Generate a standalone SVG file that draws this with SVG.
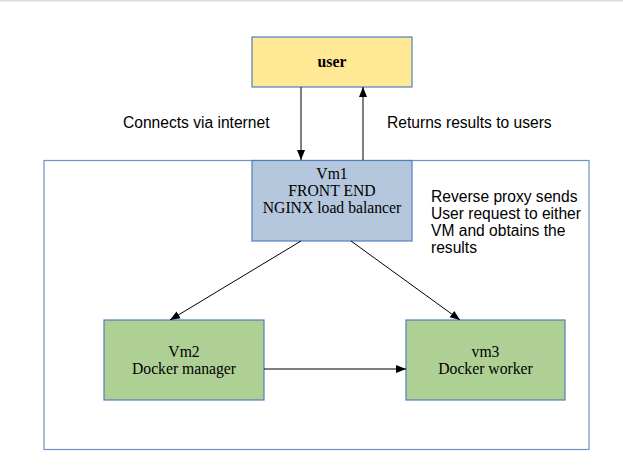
<svg xmlns="http://www.w3.org/2000/svg" width="623" height="467" viewBox="0 0 623 467">
<style>
.box{stroke:#4f7fbf;stroke-width:1.2}
.serif{font-family:"Liberation Serif","Times New Roman",serif;font-size:15.7px;fill:#000;text-anchor:middle}
.sans{font-family:"Liberation Sans",Arial,sans-serif;font-size:15.6px;fill:#000}
.conn{stroke:#000;stroke-width:1;fill:none}
</style>
<defs>
<marker id="ah" viewBox="0 0 10 10" refX="10" refY="5" markerWidth="10" markerHeight="10" markerUnits="userSpaceOnUse" orient="auto">
<path d="M0,1 L10,5 L0,9 Z" fill="#000"/>
</marker>
</defs>
<rect x="0" y="0" width="623" height="467" fill="#fff"/>
<rect x="0" y="0" width="623" height="1.5" fill="#dcdcdc"/>
<g id="container">
<rect x="44" y="160.5" width="545" height="289" fill="#fff" stroke="#6b93c9" stroke-width="1.2"/>
</g>
<g id="user">
<rect class="box" x="252" y="37" width="160" height="50" fill="#ffe994"/>
<text class="serif" x="332" y="67" font-weight="bold">user</text>
</g>
<g id="vm1">
<rect class="box" x="252" y="160.5" width="160" height="80.5" fill="#b4c7dc"/>
<text class="serif" x="332" y="179">Vm1</text>
<text class="serif" x="332" y="196">FRONT END</text>
<text class="serif" x="332" y="213">NGINX load balancer</text>
</g>
<g id="vm2">
<rect class="box" x="104" y="320" width="160" height="80" fill="#afd095"/>
<text class="serif" x="184" y="357">Vm2</text>
<text class="serif" x="184" y="374">Docker manager</text>
</g>
<g id="vm3">
<rect class="box" x="406" y="320" width="159" height="80" fill="#afd095"/>
<text class="serif" x="485.5" y="357">vm3</text>
<text class="serif" x="485.5" y="374">Docker worker</text>
</g>
<g id="connectors">
<line class="conn" x1="301" y1="87" x2="301" y2="160" marker-end="url(#ah)"/>
<line class="conn" x1="363" y1="160" x2="363" y2="87" marker-end="url(#ah)"/>
<line class="conn" x1="301" y1="241" x2="170" y2="320" marker-end="url(#ah)"/>
<line class="conn" x1="351" y1="241" x2="460" y2="320" marker-end="url(#ah)"/>
<line class="conn" x1="264" y1="369" x2="406" y2="369" marker-end="url(#ah)"/>
</g>
<g id="labels">
<text class="sans" x="123" y="128">Connects via internet</text>
<text class="sans" x="387" y="128">Returns results to users</text>
<text class="sans" x="431" y="202">Reverse proxy sends</text>
<text class="sans" x="431" y="219">User request to either</text>
<text class="sans" x="431" y="236">VM and obtains the</text>
<text class="sans" x="431" y="253">results</text>
</g>
</svg>
